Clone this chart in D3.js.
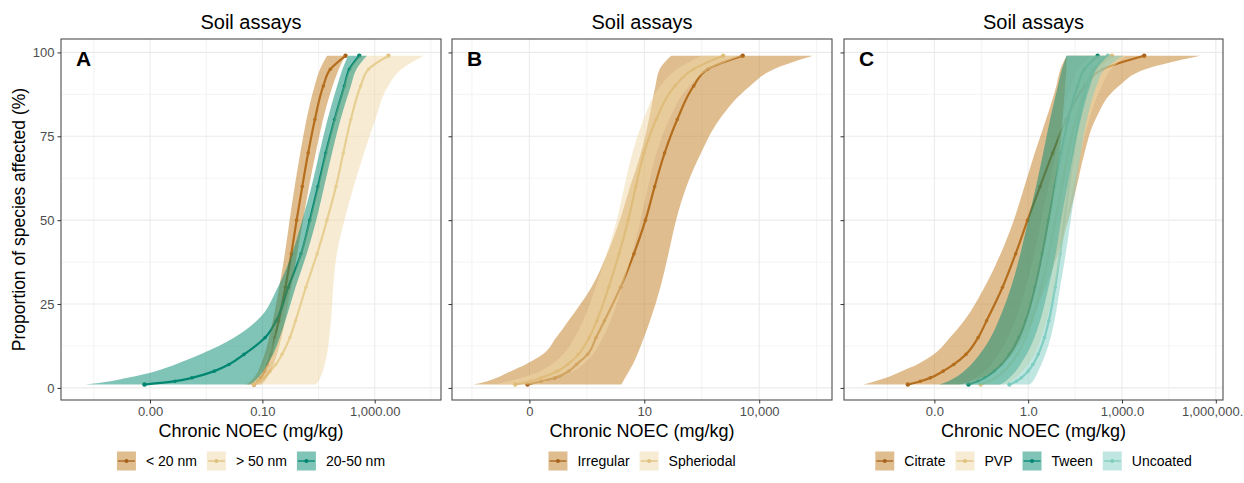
<!DOCTYPE html>
<html><head><meta charset="utf-8">
<script src="https://cdn.jsdelivr.net/npm/d3@7"></script>
<style>
body{margin:0;background:#fff}
svg{display:block}
text{font-family:"Liberation Sans",Arial,Helvetica,sans-serif}
</style>
</head><body>
<svg id="chart" width="1244" height="483"></svg>
<script>
// ---------- DATA (x values are log10 of Chronic NOEC in mg/kg) ----------
const pct = [1,2,3,5,7,10,15,20,30,40,50,60,70,80,90,95,99];

// Panel A : size classes
const a_lt20_mid = [-1.30,-1.15,-1.05,-0.92,-0.82,-0.70,-0.55,-0.42,-0.18,0.03,0.22,0.42,0.63,0.87,1.17,1.42,1.96];
const a_lt20_lo  = [-1.55,-1.40,-1.30,-1.15,-1.05,-0.92,-0.76,-0.63,-0.40,-0.20,-0.03,0.15,0.35,0.57,0.86,1.05,1.30];
const a_lt20_hi  = [-1.05,-0.92,-0.83,-0.70,-0.60,-0.48,-0.32,-0.20,0.03,0.24,0.45,0.66,0.90,1.16,1.50,1.72,1.95];
const a_gt50_mid = [-1.30,-1.10,-0.95,-0.72,-0.52,-0.30,-0.02,0.18,0.55,0.95,1.30,1.62,1.88,2.15,2.50,2.78,3.49];
const a_gt50_lo  = [-1.65,-1.45,-1.32,-1.12,-0.98,-0.80,-0.55,-0.35,0.00,0.35,0.68,0.98,1.25,1.55,1.90,2.10,2.45];
const a_gt50_hi  = [0.90,1.00,1.06,1.15,1.22,1.30,1.38,1.44,1.52,1.65,1.92,2.25,2.62,3.02,3.48,3.95,4.75];
const a_2050_mid = [-5.20,-4.11,-3.51,-2.71,-2.19,-1.65,-0.90,-0.51,-0.08,0.38,0.69,0.98,1.26,1.57,1.92,2.10,2.45];
const a_2050_lo  = [-7.30,-6.40,-5.80,-4.80,-4.10,-3.20,-2.00,-1.20,-0.45,0.05,0.42,0.75,1.03,1.32,1.66,1.85,2.05];
const a_2050_hi  = [-1.45,-1.28,-1.15,-0.97,-0.82,-0.62,-0.38,-0.18,0.18,0.58,0.92,1.20,1.48,1.78,2.15,2.35,2.72];

// Panel B : shapes
const b_irr_mid = [-2.05,-1.69,-1.34,-0.97,-0.77,-0.48,-0.26,-0.04,0.38,0.73,1.03,1.27,1.53,1.86,2.29,2.65,3.57];
const b_irr_lo  = [-3.46,-3.10,-2.85,-2.48,-2.10,-1.65,-1.30,-0.98,-0.38,0.03,0.36,0.63,0.91,1.12,1.29,1.40,1.70];
const b_irr_hi  = [0.40,0.45,0.50,0.60,0.70,0.82,0.99,1.15,1.42,1.63,1.83,2.10,2.48,2.96,3.76,4.38,5.40];
const b_sph_mid = [-2.37,-1.98,-1.70,-1.27,-1.00,-0.72,-0.44,-0.24,0.07,0.34,0.58,0.78,0.99,1.31,1.80,2.28,3.06];
const b_sph_lo  = [-2.95,-2.53,-2.20,-1.72,-1.42,-1.12,-0.82,-0.60,-0.27,0.02,0.28,0.48,0.69,0.98,1.42,1.85,2.50];
const b_sph_hi  = [-1.90,-1.52,-1.25,-0.85,-0.60,-0.34,-0.08,0.12,0.42,0.68,0.90,1.10,1.32,1.65,2.18,2.70,3.55];

// Panel C : coatings
const c_cit_mid = [-3.85,-3.45,-3.13,-2.72,-2.38,-1.99,-1.60,-1.33,-0.82,-0.40,-0.02,0.38,0.78,1.22,1.82,2.38,3.71];
const c_cit_lo  = [-5.27,-4.90,-4.55,-4.05,-3.55,-3.02,-2.50,-2.05,-1.40,-0.88,-0.46,-0.12,0.21,0.57,0.90,1.03,1.23];
const c_cit_hi  = [-2.20,-1.80,-1.50,-1.10,-0.82,-0.50,-0.15,0.12,0.55,0.95,1.28,1.55,1.80,2.15,2.90,3.75,5.50];
const c_pvp_mid = [-1.52,-1.25,-1.05,-0.78,-0.58,-0.35,-0.08,0.12,0.42,0.66,0.87,1.07,1.28,1.52,1.88,2.15,2.68];
const c_pvp_lo  = [-2.20,-1.90,-1.70,-1.40,-1.18,-0.95,-0.65,-0.42,-0.08,0.20,0.42,0.65,0.88,1.10,1.38,1.58,2.00];
const c_pvp_hi  = [-0.75,-0.55,-0.40,-0.18,0.00,0.20,0.42,0.58,0.85,1.05,1.25,1.45,1.68,1.95,2.35,2.65,3.15];
const c_tw_mid  = [-1.91,-1.60,-1.38,-1.08,-0.85,-0.60,-0.30,-0.08,0.22,0.45,0.65,0.85,1.05,1.28,1.58,1.80,2.22];
const c_tw_lo   = [-2.85,-2.55,-2.35,-2.05,-1.82,-1.55,-1.20,-0.95,-0.55,-0.25,0.00,0.25,0.48,0.70,0.95,1.08,1.23];
const c_tw_hi   = [-0.90,-0.72,-0.60,-0.40,-0.25,-0.05,0.20,0.38,0.65,0.88,1.05,1.25,1.45,1.68,1.98,2.18,2.55];
const c_unc_mid = [-0.60,-0.38,-0.22,0.00,0.15,0.32,0.52,0.66,0.86,1.02,1.16,1.30,1.45,1.62,1.88,2.08,2.55];
const c_unc_lo  = [-1.86,-1.55,-1.35,-1.05,-0.82,-0.55,-0.25,-0.05,0.25,0.48,0.68,0.85,1.00,1.10,1.18,1.22,1.23];
const c_unc_hi  = [0.05,0.15,0.22,0.32,0.42,0.55,0.72,0.84,1.02,1.20,1.36,1.52,1.68,1.88,2.19,2.45,3.04];

// Category names
const legendA = ["< 20 nm", "> 50 nm", "20-50 nm"];
const legendB = ["Irregular", "Spheriodal"];
const legendC = ["Citrate", "PVP", "Tween", "Uncoated"];

// Axis ticks (mg/kg) and their printed labels
const ticksA = [1e-5, 0.1, 1000];        const tickLabelsA = ["0.00", "0.10", "1,000.00"];
const ticksB = [0.01, 10, 10000];        const tickLabelsB = ["0", "10", "10,000"];
const ticksC = [0.001, 1, 1000, 1e6];    const tickLabelsC = ["0.0", "1.0", "1,000.0", "1,000,000.0"];
const yTicks = [0, 25, 50, 75, 100];
const panelLetters = ["A", "B", "C"];
const panelTitle = "Soil assays";
const xTitle = "Chronic NOEC (mg/kg)";
const yTitle = "Proportion of species affected (%)";

// ---------- STYLE ----------
const COL = {
  brown: {line: "#a6611a", fill: "#c17b1f"},
  beige: {line: "#dfc27d", fill: "#efd9a8"},
  teal:  {line: "#018571", fill: "#018a72"},
  cyan:  {line: "#80cdc1", fill: "#80cdc1"}
};
const FILL_OP = 0.5;

const mk = (name, col, mid, lo, hi) => ({name, col, data: pct.map((p, i) => ({p, mid: mid[i], lo: lo[i], hi: hi[i]}))});

const panels = [
  {letter: panelLetters[0], x0: 61, x1: 441, dom: [-8.17, 5.36], ticks: ticksA, labels: tickLabelsA, yLabels: true,
   series: [mk(legendA[0], COL.brown, a_lt20_mid, a_lt20_lo, a_lt20_hi),
            mk(legendA[1], COL.beige, a_gt50_mid, a_gt50_lo, a_gt50_hi),
            mk(legendA[2], COL.teal, a_2050_mid, a_2050_lo, a_2050_hi)]},
  {letter: panelLetters[1], x0: 452, x1: 832, dom: [-4.02, 5.90], ticks: ticksB, labels: tickLabelsB, yLabels: false,
   series: [mk(legendB[0], COL.brown, b_irr_mid, b_irr_lo, b_irr_hi),
            mk(legendB[1], COL.beige, b_sph_mid, b_sph_lo, b_sph_hi)]},
  {letter: panelLetters[2], x0: 844, x1: 1223, dom: [-5.89, 6.23], ticks: ticksC, labels: tickLabelsC, yLabels: false,
   series: [mk(legendC[0], COL.brown, c_cit_mid, c_cit_lo, c_cit_hi),
            mk(legendC[1], COL.beige, c_pvp_mid, c_pvp_lo, c_pvp_hi),
            mk(legendC[2], COL.teal, c_tw_mid, c_tw_lo, c_tw_hi),
            mk(legendC[3], COL.cyan, c_unc_mid, c_unc_lo, c_unc_hi)]}
];

const svg = d3.select("#chart");
const Y0 = 39, Y1 = 400;
const y = d3.scaleLinear().domain([-3.6, 104]).range([Y1, Y0]);
const GRID = "#ebebeb";

svg.append("text").attr("x", 20).attr("y", (Y0 + Y1) / 2)
  .attr("transform", `rotate(-90,20,${(Y0 + Y1) / 2})`)
  .attr("text-anchor", "middle").attr("dominant-baseline", "middle")
  .attr("font-size", 17.5).attr("fill", "#000").text(yTitle);

panels.forEach((pn, pi) => {
  const x = d3.scaleLog().domain([Math.pow(10, pn.dom[0]), Math.pow(10, pn.dom[1])]).range([pn.x0, pn.x1]);
  const X = v => x(Math.pow(10, v));
  const g = svg.append("g");
  const cx = (pn.x0 + pn.x1) / 2;

  // background + grid
  g.append("rect").attr("x", pn.x0).attr("y", Y0).attr("width", pn.x1 - pn.x0).attr("height", Y1 - Y0).attr("fill", "#fff");
  const logT = pn.ticks.map(Math.log10);
  const step = logT[1] - logT[0];
  const minors = [logT[0] - step / 2].concat(logT.map(t => t + step / 2)).filter(t => t > pn.dom[0] && t < pn.dom[1]);
  g.selectAll(".vmin").data(minors).join("line")
    .attr("x1", d => X(d)).attr("x2", d => X(d)).attr("y1", Y0).attr("y2", Y1)
    .attr("stroke", GRID).attr("stroke-width", 0.6);
  g.selectAll(".hmin").data([12.5, 37.5, 62.5, 87.5]).join("line")
    .attr("x1", pn.x0).attr("x2", pn.x1).attr("y1", d => y(d)).attr("y2", d => y(d))
    .attr("stroke", GRID).attr("stroke-width", 0.6);
  g.selectAll(".vmaj").data(pn.ticks).join("line")
    .attr("x1", d => x(d)).attr("x2", d => x(d)).attr("y1", Y0).attr("y2", Y1)
    .attr("stroke", GRID).attr("stroke-width", 1.1);
  g.selectAll(".hmaj").data(yTicks).join("line")
    .attr("x1", pn.x0).attr("x2", pn.x1).attr("y1", d => y(d)).attr("y2", d => y(d))
    .attr("stroke", GRID).attr("stroke-width", 1.1);

  const clipId = "clip" + pi;
  svg.append("clipPath").attr("id", clipId).append("rect")
    .attr("x", pn.x0).attr("y", Y0).attr("width", pn.x1 - pn.x0).attr("height", Y1 - Y0);
  const plot = g.append("g").attr("clip-path", `url(#${clipId})`);

  const area = d3.area().y(d => y(d.p)).x0(d => X(d.lo)).x1(d => X(d.hi)).curve(d3.curveMonotoneY);
  const line = d3.line().y(d => y(d.p)).x(d => X(d.mid)).curve(d3.curveMonotoneY);

  // lines + points first, then the translucent ribbons on top
  pn.series.forEach(s => {
    const rev = s.data.slice().reverse();
    plot.append("path").attr("d", line(rev)).attr("fill", "none").attr("stroke", s.col.line).attr("stroke-width", 2.2);
    plot.selectAll(null).data(s.data).join("circle")
      .attr("cx", d => X(d.mid)).attr("cy", d => y(d.p))
      .attr("r", (d, i) => (i === 0 || i === s.data.length - 1) ? 2.2 : 1.8)
      .attr("fill", s.col.line);
  });
  pn.series.forEach(s => {
    const rev = s.data.slice().reverse();
    plot.append("path").attr("d", area(rev)).attr("fill", s.col.fill).attr("fill-opacity", FILL_OP);
  });

  // border
  g.append("rect").attr("x", pn.x0).attr("y", Y0).attr("width", pn.x1 - pn.x0).attr("height", Y1 - Y0)
    .attr("fill", "none").attr("stroke", "#4d4d4d").attr("stroke-width", 1.1);

  // axes
  const ax = g.append("g").attr("transform", `translate(0,${Y1})`)
    .call(d3.axisBottom(x).tickValues(pn.ticks).tickFormat((d, i) => pn.labels[i]).tickSize(3.5).tickPadding(3));
  ax.select(".domain").remove();
  ax.selectAll("line").attr("stroke", "#333");
  ax.selectAll("text").attr("font-size", 13).attr("fill", "#4d4d4d").attr("font-family", "Liberation Sans, Arial, sans-serif");

  const ay = g.append("g").attr("transform", `translate(${pn.x0},0)`)
    .call(d3.axisLeft(y).tickValues(yTicks).tickFormat(d => pn.yLabels ? d : "").tickSize(3.5).tickPadding(3));
  ay.select(".domain").remove();
  ay.selectAll("line").attr("stroke", "#333");
  ay.selectAll("text").attr("font-size", 13).attr("fill", "#4d4d4d").attr("font-family", "Liberation Sans, Arial, sans-serif");

  // titles
  g.append("text").attr("x", cx).attr("y", 29).attr("text-anchor", "middle")
    .attr("font-size", 20).attr("fill", "#000").text(panelTitle);
  g.append("text").attr("x", pn.x0 + 15).attr("y", 66).attr("font-size", 21).attr("font-weight", "bold")
    .attr("fill", "#000").text(pn.letter);
  g.append("text").attr("x", cx).attr("y", 437).attr("text-anchor", "middle")
    .attr("font-size", 18).attr("fill", "#000").text(xTitle);

  // legend
  const lg = g.append("g");
  const KEY = 19, LY = 461, GAP_T = 10, GAP_I = 10;
  let cur = 0;
  pn.series.forEach(s => {
    const it = lg.append("g").attr("transform", `translate(${cur},0)`);
    it.append("rect").attr("x", 0).attr("y", LY - KEY / 2).attr("width", KEY).attr("height", KEY)
      .attr("fill", s.col.fill).attr("fill-opacity", FILL_OP);
    it.append("line").attr("x1", 1).attr("x2", KEY - 1).attr("y1", LY).attr("y2", LY)
      .attr("stroke", s.col.line).attr("stroke-width", 1.3);
    it.append("circle").attr("cx", KEY / 2).attr("cy", LY).attr("r", 2).attr("fill", s.col.line);
    const t = it.append("text").attr("x", KEY + GAP_T).attr("y", LY).attr("dominant-baseline", "central")
      .attr("font-size", 14).attr("fill", "#000").text(s.name);
    cur += KEY + GAP_T + t.node().getComputedTextLength() + GAP_I;
  });
  const total = cur - GAP_I;
  lg.attr("transform", `translate(${cx - total / 2},0)`);
});
</script>
</body></html>
